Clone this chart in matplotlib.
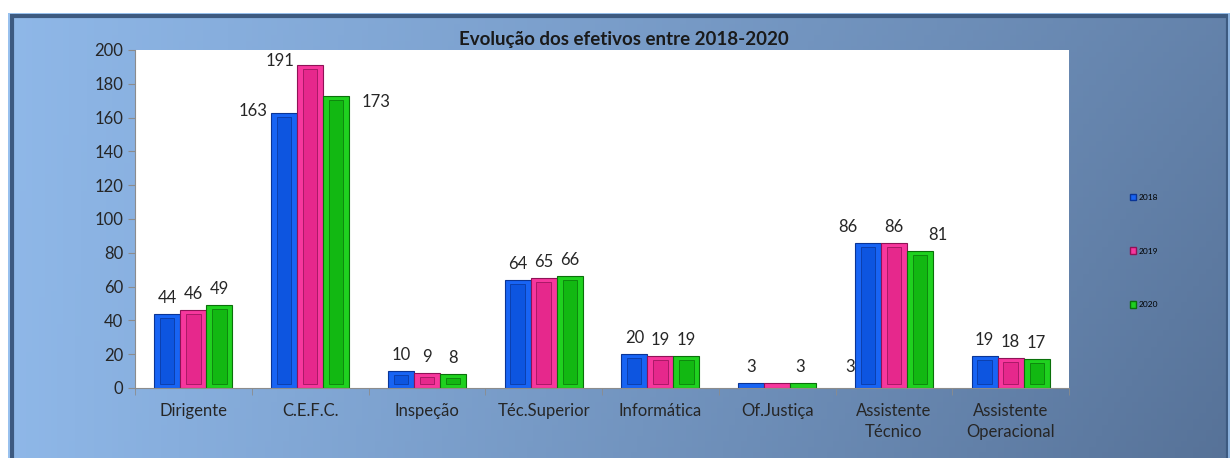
import numpy as np
import matplotlib
matplotlib.use('Agg')
import matplotlib.pyplot as plt
from matplotlib.patches import Patch

plt.rcParams['font.family'] = ['Lato', 'DejaVu Sans']

categorias = ['Dirigente', 'C.E.F.C.', 'Inspeção', 'Téc.Superior', 'Informática',
              'Of.Justiça', 'Assistente\nTécnico', 'Assistente\nOperacional']
anos = ['2018', '2019', '2020']
v2018 = [44, 163, 10, 64, 20, 3, 86, 19]
v2019 = [46, 191, 9, 65, 19, 3, 86, 18]
v2020 = [49, 173, 8, 66, 19, 3, 81, 17]
series = [v2018, v2019, v2020]

cores = ['#1864f4', '#f7379d', '#1fd11f']
cores_int = ['#0d55e0', '#e6288c', '#12b812']
bordas = ['#0a3596', '#8f1256', '#0a700a']

# deslocamento das etiquetas (pixeis) onde o Excel as pos fora do sitio
desloc = {(0, 1): (-31, -14), (1, 1): (-30, -12), (2, 1): (40, -22),
          (1, 5): (23, 0), (2, 5): (47, 0),
          (0, 6): (-20, 0), (2, 6): (18, 0)}

fig = plt.figure(figsize=(12.3, 4.58), dpi=100)

# fundo em degrade
bg = fig.add_axes([8 / 1230, 0, 1 - 8 / 1230, (458 - 13) / 458])
xx, yy = np.meshgrid(np.linspace(0, 1, 200), np.linspace(0, 1, 80))
t = (xx * (0.8 + 0.25 * yy))[..., None]
c1 = np.array([0.56, 0.72, 0.91])
c2 = np.array([0.35, 0.46, 0.61])
bg.imshow(c1 * (1 - t) + c2 * t, aspect='auto', extent=[0, 1, 0, 1])
bg.plot([0.003, 0.003, 0.998, 0.998], [0, 0.993, 0.993, 0], color='#3d5a80', lw=3,
        transform=bg.transAxes, solid_joinstyle='miter')
bg.plot([0.0008, 0.0008, 0.9995, 0.9995], [0, 0.999, 0.999, 0], color='#9cc4f0', lw=1.2,
        transform=bg.transAxes)
bg.set_xlim(0, 1)
bg.set_ylim(0, 1)
bg.set_axis_off()

ax = fig.add_axes([135 / 1230, 1 - 388 / 458, (1069 - 135) / 1230, (388 - 50) / 458])
ax.set_facecolor('white')
x = np.arange(len(categorias))
w = 0.223
px_por_un = 338 / 200
for i, vals in enumerate(series):
    xs = x + (i - 1) * w
    vals = np.array(vals)
    ax.bar(xs, vals, w, color=cores[i], edgecolor=bordas[i], lw=0.8, zorder=2)
    inner = np.clip(vals - 2 * 4 / px_por_un, 0, None)
    ax.bar(xs, inner, w * 0.55, bottom=np.where(inner > 0, 4 / px_por_un, 0),
           color=cores_int[i], edgecolor=bordas[i], lw=0.5, zorder=3)
    for j, v in enumerate(vals):
        dx, dy = desloc.get((i, j), (0, 0))
        ax.annotate(str(v), (xs[j], v), xytext=(dx, 8 + dy), textcoords='offset pixels',
                    ha='center', va='bottom', fontsize=12, color='#262626')

ax.set_xlim(-0.5, len(categorias) - 0.5)
ax.set_ylim(0, 200)
ax.set_yticks(range(0, 201, 20))
ax.set_xticks(x)
ax.set_xticklabels(categorias, fontsize=12, color='#262626', linespacing=1.35)
ax.set_xticks(np.arange(-0.5, len(categorias), 1), minor=True)
ax.tick_params(axis='x', which='major', length=0, pad=11)
ax.tick_params(axis='x', which='minor', length=5, color='#8c8c8c')
ax.tick_params(axis='y', labelsize=12, labelcolor='#262626', color='#8c8c8c', length=5)
for s in ['top', 'right']:
    ax.spines[s].set_visible(False)
for s in ['left', 'bottom']:
    ax.spines[s].set_color('#8c8c8c')

fig.text(624 / 1230, 1 - 40 / 458, 'Evolução dos efetivos entre 2018-2020', ha='center', va='center',
         fontsize=13.5, fontweight='bold', color='#1a1a1a')

handles = [Patch(facecolor=cores[i], edgecolor=bordas[i], label=anos[i]) for i in range(3)]
fig.legend(handles=handles, loc='center left', bbox_to_anchor=(1122 / 1230, 1 - 251 / 458),
           frameon=False, fontsize=6, labelspacing=5.6, handlelength=0.8, handleheight=0.8,
           handletextpad=0.3)

fig.savefig('out.png', dpi=100)
